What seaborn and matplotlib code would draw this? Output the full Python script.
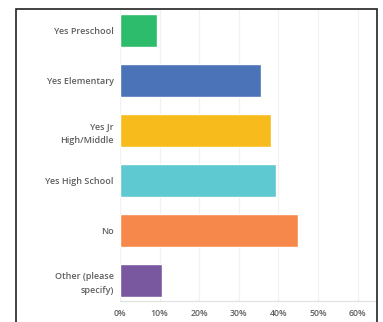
import matplotlib

matplotlib.use("Agg")
import matplotlib.pyplot as plt
import matplotlib.patches as mpatches
import pandas as pd
import seaborn as sns
from matplotlib.ticker import FuncFormatter, MultipleLocator

CATEGORIES = [
    "Yes Preschool",
    "Yes Elementary",
    "Yes Jr\nHigh/Middle",
    "Yes High School",
    "No",
    "Other (please\nspecify)",
]
SHARES = [0.093, 0.355, 0.382, 0.395, 0.450, 0.107]
COLORS = ["#2dbb6c", "#4b74b8", "#f7bc1c", "#5ec9d0", "#f7884b", "#7a589f"]

TEXT = "#5e5e5e"

df = pd.DataFrame({"answer": CATEGORIES, "share": SHARES})

sns.set_theme(style="white")
plt.rcParams["font.family"] = ["Open Sans", "DejaVu Sans"]

fig = plt.figure(figsize=(3.83, 3.22), dpi=100)
ax = fig.add_axes([0.3133, 0.0652, 0.6667, 0.9068])

sns.barplot(
    data=df,
    x="share",
    y="answer",
    hue="answer",
    palette=COLORS,
    legend=False,
    width=0.66,
    saturation=1,
    ax=ax,
)

ax.set_xlim(0, 0.645)
ax.set_ylim(5.42, -0.42)
ax.xaxis.set_major_locator(MultipleLocator(0.1))
ax.xaxis.set_major_formatter(FuncFormatter(lambda v, _: f"{v * 100:.0f}%"))
ax.grid(axis="x", color="#f1f1f1", lw=0.9)
ax.set_axisbelow(True)
ax.set_xlabel("")
ax.set_ylabel("")

for side in ["top", "right", "left"]:
    ax.spines[side].set_visible(False)
ax.spines["bottom"].set_color("#e2e2e2")
ax.spines["bottom"].set_linewidth(0.9)

ax.tick_params(axis="x", length=0, pad=6, labelsize=6.3, labelcolor=TEXT)
ax.tick_params(axis="y", length=0, pad=4.5, labelsize=6.5, labelcolor=TEXT)
for lbl in ax.get_yticklabels() + ax.get_xticklabels():
    lbl.set_fontweight("semibold")
for lbl in ax.get_yticklabels():
    lbl.set_horizontalalignment("right")
    lbl.set_multialignment("right")
    lbl.set_linespacing(1.75)

# outer frame around the whole panel (open at the bottom edge of the crop)
frame = mpatches.Rectangle(
    (16 / 383, -0.05),
    (377 - 16) / 383,
    (322 - 9) / 322 + 0.05,
    transform=fig.transFigure,
    fill=False,
    edgecolor="#222222",
    lw=1.2,
    clip_on=False,
)
fig.add_artist(frame)

fig.savefig("out.png", dpi=100)
